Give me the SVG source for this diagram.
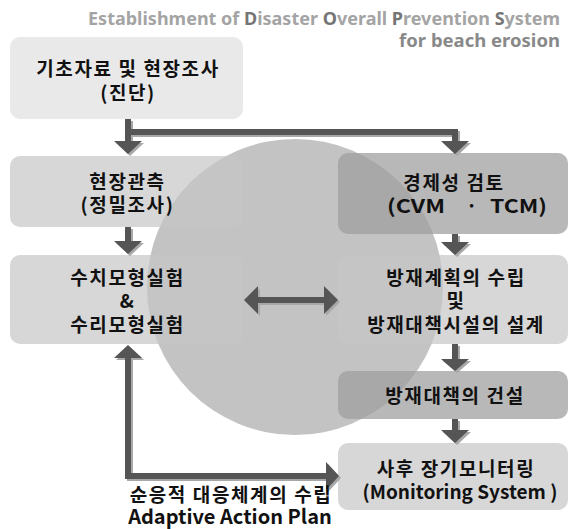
<svg xmlns="http://www.w3.org/2000/svg" xmlns:xlink="http://www.w3.org/1999/xlink" width="570" height="529" viewBox="0 0 570 529">
<style>
.light{fill:#c6c6c6;fill-opacity:0.7}
.dark{fill:#9e9e9e;fill-opacity:0.73}
.t{font-family:"Noto Sans CJK KR","Noto Sans",sans-serif;font-weight:bold;font-size:19px;fill:#111;text-anchor:middle;letter-spacing:1.6px}
.e{letter-spacing:0}
.title{font-family:"Noto Sans","Open Sans",sans-serif;font-weight:bold;font-size:18px;text-anchor:end;fill:#a4a4a4}
.cap{fill:#757575}
.arrow{fill:#555}
.shadow{fill:#a8a8a8}
</style>
<defs>
<path id="a1" d="M125,119 H131 V141 H142 L128,154 L114,141 H125 Z"/>
<path id="a2" d="M125,129 H458 V141 H469 L455,154 L441,141 H452 V135 H125 Z"/>
<path id="a3" d="M125,227 H131 V241 H142 L128,254 L114,241 H125 Z"/>
<path id="a4" d="M452,234 H458 V242 H469 L455,255 L441,242 H452 Z"/>
<path id="a5" d="M244,300 L258,286 V297 H324 V286 L338,300 L324,314 V303 H258 V314 Z"/>
<path id="a6" d="M452,344 H458 V359 H469 L455,371 L441,359 H452 Z"/>
<path id="a7" d="M452,419 H458 V430 H469 L455,443 L441,430 H452 Z"/>
<path id="a8" d="M128,345 L142,358 H131 V473 H326 V462 L339,476 L326,490 V479 H125 V358 H114 Z"/>
</defs>
<rect width="570" height="529" fill="#fff"/>
<g id="title">
<text class="title" x="560" y="25">Establishment of <tspan class="cap">D</tspan>isaster <tspan class="cap">O</tspan>verall <tspan class="cap">P</tspan>revention <tspan class="cap">S</tspan>ystem</text>
<text class="title" x="560" y="47" style="fill:#898989;font-size:18.5px">for beach erosion</text>
</g>
<circle id="bg-circle" cx="295" cy="287" r="148" fill="#c3c3c3"/>
<g id="n1">
<rect x="10" y="37" width="233" height="82" rx="10" fill="#e9e9e9"/>
<text class="t" x="128" y="76">기초자료 및 현장조사</text>
<text class="t" x="128" y="100">(진단)</text>
</g>
<g id="n2">
<rect class="light" x="10" y="156" width="233" height="71" rx="10"/>
<text class="t" x="127.5" y="189">현장관측</text>
<text class="t" x="127.5" y="212">(정밀조사)</text>
</g>
<g id="n3">
<rect class="dark" x="338" y="153" width="230" height="81" rx="10"/>
<text class="t" x="454" y="190">경제성 검토</text>
<text class="t e" style="text-anchor:start" y="213"><tspan x="387" textLength="58" lengthAdjust="spacingAndGlyphs">(CVM</tspan><tspan x="466">·</tspan><tspan x="490" textLength="57" lengthAdjust="spacingAndGlyphs">TCM)</tspan></text>
</g>
<g id="n4">
<rect class="light" x="10" y="255" width="233" height="89" rx="10"/>
<text class="t" x="127.5" y="285">수치모형실험</text>
<text class="t" x="127.5" y="308">&amp;</text>
<text class="t" x="127.5" y="332">수리모형실험</text>
</g>
<g id="n5">
<rect class="light" x="338" y="255" width="230" height="89" rx="10"/>
<text class="t" x="456" y="285">방재계획의 수립</text>
<text class="t" x="456" y="308">및</text>
<text class="t" x="456" y="332">방재대책시설의 설계</text>
</g>
<g id="n6">
<rect class="dark" x="338" y="371" width="230" height="48" rx="10"/>
<text class="t" x="455" y="403">방재대책의 건설</text>
</g>
<g id="n7">
<rect class="light" x="338" y="443" width="230" height="67" rx="10"/>
<text class="t" x="456" y="476">사후 장기모니터링</text>
<text class="t e" x="460" y="499">(Monitoring System )</text>
</g>
<g id="connectors">
<g class="shadow" transform="translate(2,2)">
<use xlink:href="#a1"/><use xlink:href="#a2"/><use xlink:href="#a3"/><use xlink:href="#a4"/>
<use xlink:href="#a5"/><use xlink:href="#a6"/><use xlink:href="#a7"/><use xlink:href="#a8"/>
</g>
<g class="arrow">
<use xlink:href="#a1"/><use xlink:href="#a2"/><use xlink:href="#a3"/><use xlink:href="#a4"/>
<use xlink:href="#a5"/><use xlink:href="#a6"/><use xlink:href="#a7"/><use xlink:href="#a8"/>
</g>
</g>
<g id="feedback-label">
<text class="t" x="231" y="502">순응적 대응체계의 수립</text>
<text class="t e" x="230" y="524" style="font-size:20px">Adaptive Action Plan</text>
</g>
</svg>
